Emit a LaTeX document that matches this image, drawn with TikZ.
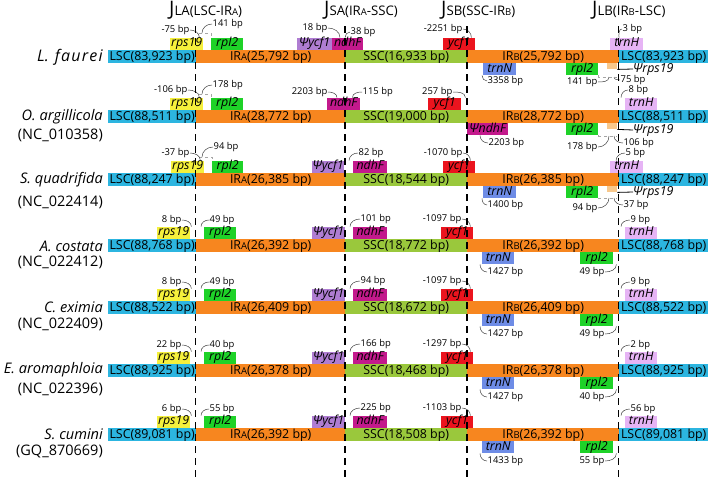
\documentclass[tikz,border=0pt]{standalone}
\usepackage{fontspec}
\setmainfont{Open Sans}
\usepackage{tikz}
\usetikzlibrary{positioning, calc}
\usepackage{xcolor}
\definecolor{lscblue}{HTML}{2CB5E0}
\definecolor{irorange}{HTML}{F7861F}
\definecolor{sscgreen}{HTML}{9AC83C}
\definecolor{rpsyellow}{HTML}{F5F03C}
\definecolor{rplgreen}{HTML}{1ED228}
\definecolor{psiycfpurple}{HTML}{AF7DD2}
\definecolor{ndhmagenta}{HTML}{C3198C}
\definecolor{ycfred}{HTML}{EB141E}
\definecolor{trnnblue}{HTML}{6E8CE6}
\definecolor{trnhpink}{HTML}{E6B4F5}
\definecolor{psirpsorange}{HTML}{F8C88C}
\newcommand{\smallcap}[1]{{\fontsize{9.5}{9.5}\selectfont #1}}

\begin{document}
\begin{tikzpicture}[
  x=1pt, y=-1pt,
  segbox/.style={anchor=north west, inner sep=0pt, minimum height=13pt, text height=9.2pt, text depth=2.6pt, font=\fontsize{12.4}{13}\selectfont},
  genebox/.style={inner sep=0pt, minimum height=12pt, text height=9pt, text depth=2.8pt, font=\fontsize{12.4}{12}\selectfont\itshape},
  genetop/.style={genebox, anchor=south west},
  genebot/.style={genebox, anchor=north west},
  psibox/.style={anchor=north west, inner sep=0pt, minimum width=10pt, minimum height=6pt, fill=psirpsorange},
  psilabel/.style={anchor=west, inner sep=0pt, font=\fontsize{12.4}{12}\selectfont\itshape},
  bplabel/.style={inner sep=0.5pt, font=\fontsize{9.4}{10}\selectfont},
  leader/.style={draw=black!75, line width=0.5pt},
  gapline/.style={draw=black!35, dashed, line width=0.5pt},
  junction/.style={draw=black, line width=1.4pt, dash pattern=on 7pt off 5pt},
  spname/.style={anchor=east, inner sep=0pt, font=\fontsize{14.6}{15}\selectfont\itshape},
  accname/.style={anchor=east, inner sep=0pt, font=\fontsize{14.5}{15}\selectfont},
  headnode/.style={anchor=base west, inner sep=0pt, font=\fontsize{13.2}{14}\selectfont}
]
\useasboundingbox (0,0) rectangle (711,483);

% junction headers
\node[headnode] (jla) at (169,15) {{\fontsize{20}{20}\selectfont J}LA(LSC-IR\smallcap{A})};
\node[headnode] (jsa) at (324,15) {{\fontsize{20}{20}\selectfont J}SA(IR\smallcap{A}-SSC)};
\node[headnode] (jsb) at (441,15) {{\fontsize{20}{20}\selectfont J}SB(SSC-IR\smallcap{B})};
\node[headnode] (jlb) at (592,15) {{\fontsize{20}{20}\selectfont J}LB(IR\smallcap{B}-LSC)};

% species
\node[spname, font=\fontsize{16}{16}\selectfont\itshape] (sp1) at (103,57) {L.\hspace{6pt}{\addfontfeature{LetterSpace=8}faurei}};
\node[spname] (sp2) at (103,117) {O. argillicola};
\node[accname] (acc2) at (103,135) {(NC\_010358)};
\node[spname] (sp3) at (103,180) {S. quadrifida};
\node[accname] (acc3) at (103,202) {(NC\_022414)};
\node[spname] (sp4) at (103,246) {A. costata};
\node[accname] (acc4) at (103,262) {(NC\_022412)};
\node[spname] (sp5) at (103,307) {C. eximia};
\node[accname] (acc5) at (103,324) {(NC\_022409)};
\node[spname] (sp6) at (103,370) {E. aromaphloia};
\node[accname] (acc6) at (103,389) {(NC\_022396)};
\node[spname] (sp7) at (103,434) {S. cumini};
\node[accname] (acc7) at (103,451) {(GQ\_870669)};

% genome bars
\foreach \i/\ty/\lsc/\ir/\ssc in {1/50/83{,}923/25{,}792/16{,}933, 2/110/88{,}511/28{,}772/19{,}000, 3/173/88{,}247/26{,}385/18{,}544, 4/239/88{,}768/26{,}392/18{,}772, 5/301/88{,}522/26{,}409/18{,}672, 6/364/88{,}925/26{,}378/18{,}468, 7/428/89{,}081/26{,}392/18{,}508}{
  \node[segbox, fill=lscblue, minimum width=88pt] (lscA\i) at (108,\ty) {LSC(\lsc\ bp)};
  \node[segbox, fill=irorange, minimum width=149pt] (irA\i) at (196,\ty) {IR\smallcap{A}(\ir\ bp)};
  \node[segbox, fill=sscgreen, minimum width=122pt] (ssc\i) at (345,\ty) {SSC(\ssc\ bp)};
  \node[segbox, fill=irorange, minimum width=152pt] (irB\i) at (467,\ty) {IR\smallcap{B}(\ir\ bp)};
  \node[segbox, fill=lscblue, minimum width=89pt] (lscB\i) at (619,\ty) {LSC(\lsc\ bp)};
}

% L. faurei
\node[genetop, fill=rpsyellow, minimum width=33pt] (r1rps) at (170,50) {rps19};
\node[genetop, fill=rplgreen, minimum width=32pt] (r1rpl) at (211,50) {rpl2};
\node[genetop, fill=psiycfpurple, minimum width=35pt] (r1psiycf) at (297,50) {Ψycf1};
\node[genetop, fill=ndhmagenta, minimum width=31pt] (r1ndh) at (332,50) {ndhF};
\node[genetop, fill=ycfred, minimum width=32pt] (r1ycf) at (443,50) {ycf1};
\node[genetop, fill=trnhpink, minimum width=33pt] (r1trnh) at (610,50) {trnH};
\node[genebot, fill=trnnblue, minimum width=33pt] (r1trnn) at (483,63) {trnN};
\node[genebot, fill=rplgreen, minimum width=32pt] (r1rplb) at (566,63) {rpl2};
\node[psibox] (r1psr) at (607,63) {};
\node[psilabel] (r1psl) at (633,69) {Ψrps19};
\draw[black, line width=0.8pt] (r1psr.south east) -- (r1psl.west);
\node[bplabel, anchor=east] (r1bprps) at (190,30) {-75 bp};
\node[bplabel, anchor=west] (r1bprpl) at (212,24) {141 bp};
\node[bplabel, anchor=east] (r1bppsi) at (328,28) {18 bp};
\node[bplabel, anchor=west] (r1bpndh) at (350,32) {38 bp};
\node[bplabel, anchor=east] (r1bpycf) at (463,29) {-2251 bp};
\node[bplabel, anchor=west] (r1bptrnh) at (622,29) {3 bp};
\node[bplabel, anchor=west] (r1bptrnn) at (487,81) {3358 bp};
\node[bplabel, anchor=east] (r1bprplb) at (598,82) {141 bp};
\node[bplabel, anchor=west] (r1bppsr) at (620,80) {75 bp};
\coordinate (r1gapA) at (199,33);
\coordinate (r1gapB) at (617,77);
\draw[gapline] (r1gapA) -| (r1rpl.north west);
\draw[gapline] (r1rplb.south east) |- (r1gapB);
\draw[leader] (r1bprps.east) to[out=0, in=90] ([xshift=-4pt]r1rps.north east);
\draw[leader] (r1bprpl.west) to[out=180, in=90] ([xshift=3pt]r1gapA);
\draw[leader] (r1bppsi.east) to[out=0, in=90] ([xshift=8pt]r1ndh.north west);
\draw[leader] (r1bpndh.west) to[out=180, in=90] ([xshift=13pt]r1ndh.north west);
\draw[leader] (r1bpycf.east) to[out=0, in=90] ([xshift=-4pt]r1ycf.north east);
\draw[leader] (r1bptrnh.west) to[out=180, in=90] ([xshift=9pt]r1trnh.north west);
\draw[leader] (r1bptrnn.west) to[out=180, in=-90] ([xshift=-1pt]r1trnn.south west);
\draw[leader] (r1bprplb.east) to[out=0, in=-90] ([xshift=-8pt]r1gapB);
\draw[leader] (r1bppsr.west) to[out=180, in=-90] ([xshift=-3pt]r1gapB);

% O. argillicola
\node[genetop, fill=rpsyellow, minimum width=33pt] (r2rps) at (170,110) {rps19};
\node[genetop, fill=rplgreen, minimum width=32pt] (r2rpl) at (211,110) {rpl2};
\node[genetop, fill=ndhmagenta, minimum width=33pt] (r2ndh) at (327,110) {ndhF};
\node[genetop, fill=ycfred, minimum width=33pt] (r2ycf) at (428,110) {ycf1};
\node[genetop, fill=trnhpink, minimum width=32pt] (r2trnh) at (625,110) {trnH};
\node[genebot, fill=ndhmagenta, minimum width=41pt] (r2psndh) at (467,123) {ΨndhF};
\node[genebot, fill=rplgreen, minimum width=32pt] (r2rplb) at (566,123) {rpl2};
\node[psibox] (r2psr) at (607,123) {};
\node[psilabel] (r2psl) at (633,130) {Ψrps19};
\draw[black, line width=0.8pt] (r2psr.south east) -- (r2psl.west);
\node[bplabel, anchor=east] (r2bprps) at (188,90) {-106 bp};
\node[bplabel, anchor=west] (r2bprpl) at (212,85) {178 bp};
\node[bplabel, anchor=east] (r2bpndhA) at (328,92) {2203 bp};
\node[bplabel, anchor=west] (r2bpndhB) at (362,92) {115 bp};
\node[bplabel, anchor=east] (r2bpycf) at (453,92) {257 bp};
\node[bplabel, anchor=west] (r2bptrnh) at (628,90) {8 bp};
\node[bplabel, anchor=west] (r2bppsndh) at (488,143) {2203 bp};
\node[bplabel, anchor=east] (r2bprplb) at (598,147) {178 bp};
\node[bplabel, anchor=west] (r2bppsr) at (623,143) {106 bp};
\coordinate (r2gapA) at (199,94);
\coordinate (r2gapB) at (617,136);
\draw[gapline] (r2gapA) -| (r2rpl.north west);
\draw[gapline] (r2rplb.south east) |- (r2gapB);
\draw[leader] (r2bprps.east) to[out=0, in=90] ([xshift=-4pt]r2rps.north east);
\draw[leader] (r2bprpl.west) to[out=180, in=90] ([xshift=3pt]r2gapA);
\draw[leader] (r2bpndhA.east) to[out=0, in=90] ([xshift=10pt]r2ndh.north west);
\draw[leader] (r2bpndhB.west) to[out=180, in=90] ([xshift=-8pt]r2ndh.north east);
\draw[leader] (r2bpycf.east) to[out=0, in=90] ([xshift=4pt]r2ycf.north east);
\draw[leader] (r2bptrnh.west) to[out=180, in=90] ([xshift=-4pt]r2trnh.north west);
\draw[leader] (r2bppsndh.west) to[out=180, in=-90] ([xshift=13pt]r2psndh.south west);
\draw[leader] (r2bprplb.east) to[out=0, in=-90] ([xshift=-8pt]r2gapB);
\draw[leader] (r2bppsr.west) to[out=180, in=-90] ([xshift=-3pt]r2gapB);

% S. quadrifida
\node[genetop, fill=rpsyellow, minimum width=33pt] (r3rps) at (171,173) {rps19};
\node[genetop, fill=rplgreen, minimum width=31pt] (r3rpl) at (212,173) {rpl2};
\node[genetop, fill=psiycfpurple, minimum width=32pt] (r3psiycf) at (312,173) {Ψycf1};
\node[genetop, fill=ndhmagenta, minimum width=34pt] (r3ndh) at (353,173) {ndhF};
\node[genetop, fill=ycfred, minimum width=32pt] (r3ycf) at (443,173) {ycf1};
\node[genetop, fill=trnhpink, minimum width=33pt] (r3trnh) at (610,173) {trnH};
\node[genebot, fill=trnnblue, minimum width=33pt] (r3trnn) at (483,186) {trnN};
\node[genebot, fill=rplgreen, minimum width=32pt] (r3rplb) at (566,186) {rpl2};
\node[psibox] (r3psr) at (607,186) {};
\node[psilabel] (r3psl) at (633,192) {Ψrps19};
\draw[black, line width=0.8pt] (r3psr.south east) -- (r3psl.west);
\node[bplabel, anchor=east] (r3bprps) at (190,153) {-37 bp};
\node[bplabel, anchor=west] (r3bprpl) at (213,147) {94 bp};
\node[bplabel, anchor=west] (r3bpndh) at (358,153) {82 bp};
\node[bplabel, anchor=east] (r3bpycf) at (463,153) {-1070 bp};
\node[bplabel, anchor=west] (r3bptrnh) at (625,153) {5 bp};
\node[bplabel, anchor=west] (r3bptrnn) at (487,205) {1400 bp};
\node[bplabel, anchor=east] (r3bprplb) at (598,208) {94 bp};
\node[bplabel, anchor=west] (r3bppsr) at (623,205) {37 bp};
\coordinate (r3gapA) at (199,157);
\coordinate (r3gapB) at (617,198);
\draw[gapline] (r3gapA) -| (r3rpl.north west);
\draw[gapline] (r3rplb.south east) |- (r3gapB);
\draw[leader] (r3bprps.east) to[out=0, in=90] ([xshift=-4pt]r3rps.north east);
\draw[leader] (r3bprpl.west) to[out=180, in=90] ([xshift=3pt]r3gapA);
\draw[leader] (r3bpndh.west) to[out=180, in=90] ([xshift=-4pt]r3ndh.north west);
\draw[leader] (r3bpycf.east) to[out=0, in=90] ([xshift=-5pt]r3ycf.north east);
\draw[leader] (r3bptrnh.west) to[out=180, in=90] ([xshift=6pt]r3trnh.north west);
\draw[leader] (r3bptrnn.west) to[out=180, in=-90] ([xshift=-1pt]r3trnn.south west);
\draw[leader] (r3bprplb.east) to[out=0, in=-90] ([xshift=-8pt]r3gapB);
\draw[leader] (r3bppsr.west) to[out=180, in=-90] ([xshift=-3pt]r3gapB);

% A. costata, C. eximia, E. aromaphloia, S. cumini
\foreach \i/\ty/\nA/\nB/\nC/\nD/\nE/\nF/\nG in {4/239/8/49/101/-1097/9/1427/49, 5/301/8/49/94/-1097/9/1427/49, 6/364/22/40/166/-1297/2/1427/40, 7/428/6/55/225/-1103/56/1433/55}{
  \node[genetop, fill=rpsyellow, minimum width=33pt] (r\i rps) at (157,\ty) {rps19};
  \node[genetop, fill=rplgreen, minimum width=32pt] (r\i rpl) at (204,\ty) {rpl2};
  \node[genetop, fill=psiycfpurple, minimum width=33pt] (r\i psiycf) at (312,\ty) {Ψycf1};
  \node[genetop, fill=ndhmagenta, minimum width=34pt] (r\i ndh) at (353,\ty) {ndhF};
  \node[genetop, fill=ycfred, minimum width=32pt] (r\i ycf) at (441,\ty) {ycf1};
  \node[genetop, fill=trnhpink, minimum width=32pt] (r\i trnh) at (625,\ty) {trnH};
  \node[genebot, fill=trnnblue, minimum width=32pt] (r\i trnn) at (482,\ty+13) {trnN};
  \node[genebot, fill=rplgreen, minimum width=33pt] (r\i rplb) at (580,\ty+13) {rpl2};
  \node[bplabel, anchor=east] (r\i bprps) at (182,\ty-19) {\nA\ bp};
  \node[bplabel, anchor=west] (r\i bprpl) at (209,\ty-19) {\nB\ bp};
  \node[bplabel, anchor=west] (r\i bpndh) at (360,\ty-20) {\nC\ bp};
  \node[bplabel, anchor=east] (r\i bpycf) at (462,\ty-20) {\nD\ bp};
  \node[bplabel, anchor=west] (r\i bptrnh) at (630,\ty-19) {\nE\ bp};
  \node[bplabel, anchor=west] (r\i bptrnn) at (487,\ty+33) {\nF\ bp};
  \node[bplabel, anchor=east] (r\i bprplb) at (605,\ty+33) {\nG\ bp};
  \draw[leader] (r\i bprps.east) to[out=0, in=90] ([xshift=1pt]r\i rps.north east);
  \draw[leader] (r\i bprpl.west) to[out=180, in=90] ([xshift=-3pt]r\i rpl.north west);
  \draw[leader] (r\i bpndh.west) to[out=180, in=90] ([xshift=-3pt]r\i ndh.north west);
  \draw[leader] (r\i bpycf.east) to[out=0, in=90] ([xshift=-3pt]r\i ycf.north east);
  \draw[leader] (r\i bptrnh.west) to[out=180, in=90] ([xshift=-4pt]r\i trnh.north west);
  \draw[leader] (r\i bptrnn.west) to[out=180, in=-90] ([xshift=-2pt]r\i trnn.south west);
  \draw[leader] (r\i bprplb.east) to[out=0, in=-90] ([xshift=3pt]r\i rplb.south east);
}

% junction lines
\foreach \n/\x in {jla/195.5, jsa/345, jsb/467, jlb/618.5}{
  \coordinate (\n top) at (\x,26);
  \coordinate (\n bot) at (\x,477);
  \draw[junction] (\n top) -- (\n bot);
}
\end{tikzpicture}
\end{document}
